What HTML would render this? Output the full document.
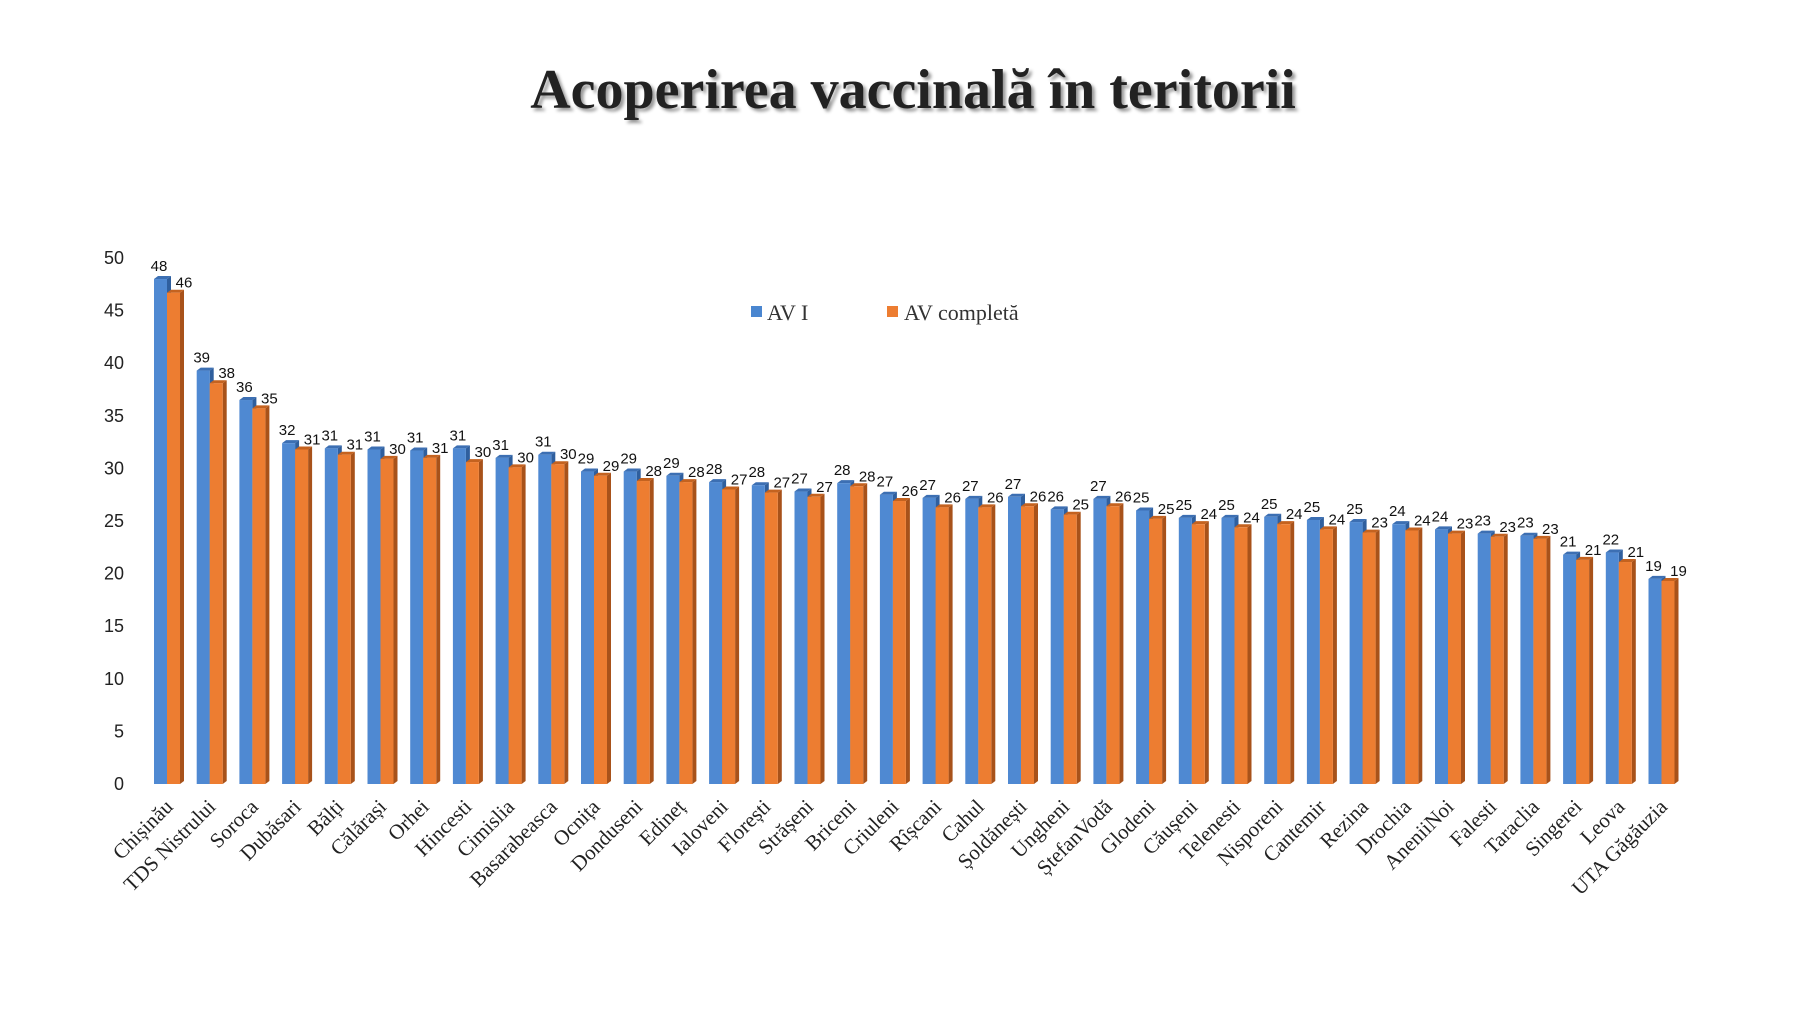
<!DOCTYPE html>
<html><head><meta charset="utf-8"><style>
body{margin:0;background:#fff;}
svg{display:block;}
</style></head><body>
<svg id="chart" width="1800" height="1013">
<text x="913" y="108" text-anchor="middle" font-family="Liberation Serif, serif" font-weight="bold" font-size="56" fill="#222" style="text-shadow:3px 3px 3px #999">Acoperirea vaccinală în teritorii</text>
<g>
<rect x="751" y="306" width="11" height="11" fill="#4a86d0"/>
<text x="767" y="320" font-family="Liberation Serif, serif" font-size="22" fill="#333">AV I</text>
<rect x="887" y="306" width="11" height="11" fill="#ed7d31"/>
<text x="904" y="320" font-family="Liberation Serif, serif" font-size="22" fill="#333">AV completă</text>
</g>
<g id="yaxis"></g><g id="bars"></g><g id="xlabels"></g>
</svg>
<script>
const categories=["Chișinău","TDS Nistrului","Soroca","Dubăsari","Bălți","Călărași","Orhei","Hincesti","Cimislia","Basarabeasca","Ocnița","Donduseni","Edineț","Ialoveni","Florești","Strășeni","Briceni","Criuleni","Rîșcani","Cahul","Șoldănești","Ungheni","ȘtefanVodă","Glodeni","Căușeni","Telenesti","Nisporeni","Cantemir","Rezina","Drochia","AneniiNoi","Falesti","Taraclia","Singerei","Leova","UTA Găgăuzia"];
const avI=[48,39.3,36.5,32.4,31.9,31.8,31.7,31.9,31,31.3,29.7,29.7,29.3,28.7,28.4,27.8,28.6,27.5,27.2,27.1,27.3,26.1,27.1,26,25.3,25.3,25.4,25.1,24.9,24.7,24.2,23.8,23.6,21.8,22,19.5];
const avC=[46.7,38.1,35.7,31.8,31.3,30.9,31,30.6,30.1,30.4,29.3,28.8,28.7,28,27.7,27.3,28.3,26.9,26.3,26.3,26.4,25.6,26.4,25.2,24.7,24.4,24.7,24.2,23.9,24.1,23.8,23.5,23.3,21.3,21.1,19.3];
const labelsI=[48,39,36,32,31,31,31,31,31,31,29,29,29,28,28,27,28,27,27,27,27,26,27,25,25,25,25,25,25,24,24,23,23,21,22,19];
const labelsC=[46,38,35,31,31,30,31,30,30,30,29,28,28,27,27,27,28,26,26,26,26,25,26,25,24,24,24,24,23,24,23,23,23,21,21,19];
const yTicks=[0,5,10,15,20,25,30,35,40,45,50];
const NS="http://www.w3.org/2000/svg";
const y0=784, ppu=10.52;
const Y=v=>y0-v*ppu;
const X=i=>154+i*42.7;
function mk(t,a,p){const e=document.createElementNS(NS,t);for(const k in a)e.setAttribute(k,a[k]);p.appendChild(e);return e;}
const ya=document.getElementById('yaxis');
yTicks.forEach(t=>{const e=mk('text',{x:124,y:Y(t)+6,'text-anchor':'end','font-family':'Liberation Sans, sans-serif','font-size':18,fill:'#222'},ya);e.textContent=t;

});
const bg=document.getElementById('bars'), xl=document.getElementById('xlabels');
const w=13,d=4;
function bar(x,v,front,top,side,name){
 const g=mk('g',{},bg);
 
 
 const yt=Y(v);
 mk('polygon',{points:`${x+w},${yt} ${x+w+d},${yt-d+1} ${x+w+d},${y0-d+1} ${x+w},${y0}`,fill:side},g);
 mk('polygon',{points:`${x},${yt} ${x+d},${yt-d+1} ${x+w+d},${yt-d+1} ${x+w},${yt}`,fill:top},g);
 mk('rect',{x:x,y:yt,width:w,height:y0-yt,fill:front},g);
}
categories.forEach((c,i)=>{
 const x=X(i);
 bar(x,avI[i],'#4f89d2','#3c6fb3','#2f5f9e','bar-av-i');
 bar(x+w,avC[i],'#ed7d31','#c4621f','#a8521a','bar-av-completa');
 let t=mk('text',{x:x+5,y:Y(avI[i])-8,'text-anchor':'middle','font-family':'Liberation Sans, sans-serif','font-size':15,fill:'#111'},bg);t.textContent=labelsI[i];
 
 
 t=mk('text',{x:x+w+w+4,y:Y(avC[i])-5,'text-anchor':'middle','font-family':'Liberation Sans, sans-serif','font-size':15,fill:'#111'},bg);t.textContent=labelsC[i];
 
 
 const cx=x+20, cy=808;
 t=mk('text',{x:cx,y:cy,'text-anchor':'end','font-family':'Liberation Serif, serif','font-size':21,fill:'#222',transform:`rotate(-45 ${cx} ${cy})`},xl);t.textContent=c;
 
 
});
</script>
</body></html>
